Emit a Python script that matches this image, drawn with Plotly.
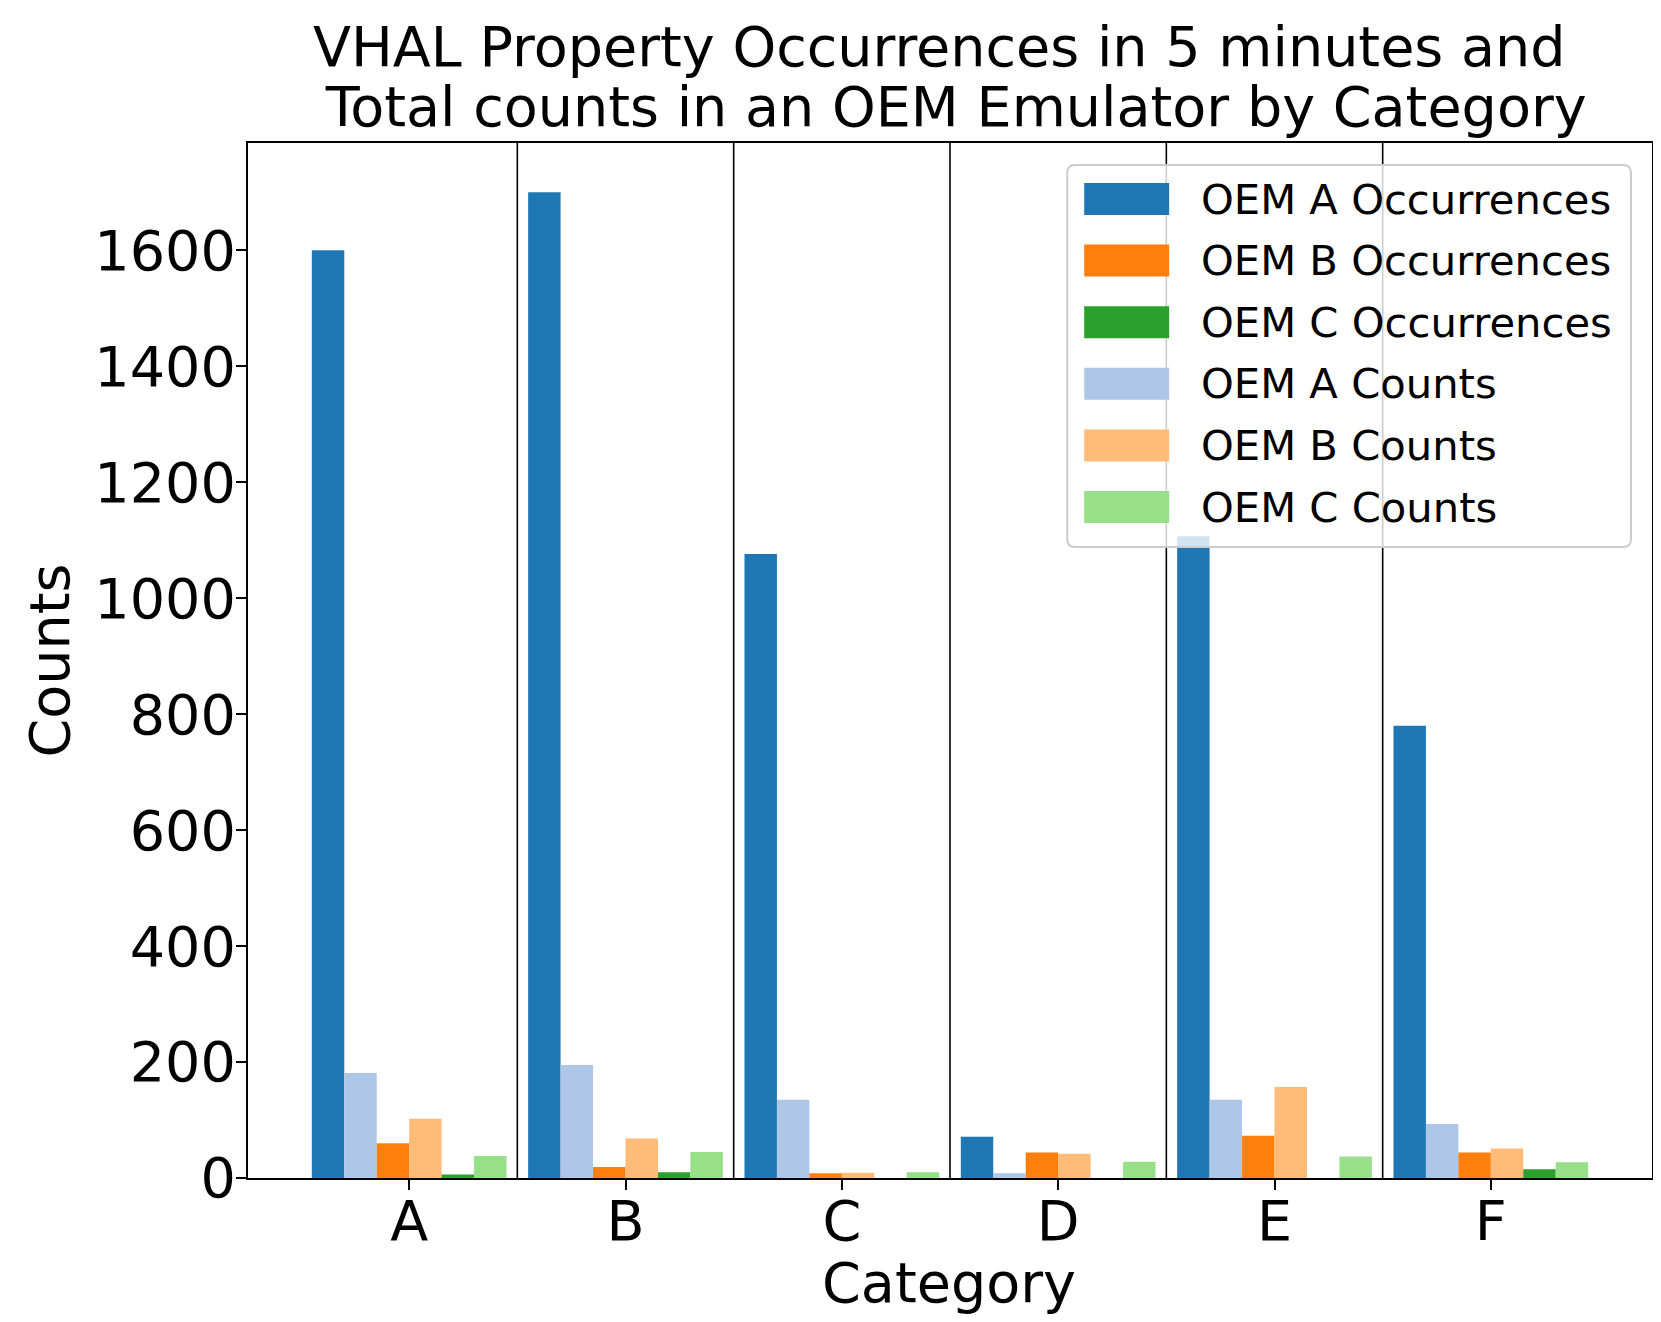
import plotly.graph_objects as go

categories = ["A", "B", "C", "D", "E", "F"]
oem_a_occ = [1600, 1700, 1076, 71, 1107, 780]
oem_a_cnt = [181, 195, 135, 8, 135, 93]
oem_b_occ = [60, 19, 8, 44, 73, 44]
oem_b_cnt = [102, 68, 9, 42, 157, 51]
oem_c_occ = [6, 10, 0, 0, 0, 15]
oem_c_cnt = [38, 45, 10, 28, 37, 27]

series = [
    ("OEM A Occurrences", oem_a_occ, "#1f77b4"),
    ("OEM A Counts", oem_a_cnt, "#aec7e8"),
    ("OEM B Occurrences", oem_b_occ, "#ff7f0e"),
    ("OEM B Counts", oem_b_cnt, "#ffbb78"),
    ("OEM C Occurrences", oem_c_occ, "#2ca02c"),
    ("OEM C Counts", oem_c_cnt, "#98df8a"),
]
legend_order = [0, 2, 4, 1, 3, 5]

W, H = 1661, 1322
L, R, T, B = 239.5, 1644, 135, 1170
PW, PH = R - L, B - T


def px2x(p):
    return (p - L) / PW


def px2y(p):
    return (B - p) / PH


FONT = "DejaVu Sans"
fig = go.Figure()
for name, vals, col in series:
    fig.add_trace(go.Bar(x=categories, y=vals, name=name, marker_color=col,
                         marker_line_width=0, showlegend=False))

shapes = []
for i in range(len(categories) - 1):
    shapes.append(dict(type="line", xref="x", yref="paper", x0=i + 0.5, x1=i + 0.5,
                       y0=0, y1=1, line=dict(color="black", width=1.6), layer="above"))

# legend box (rounded, semi-transparent like matplotlib)
lx0, lx1, ly0, ly1 = 1059, 1623, 157, 539
rr = 8


def seg(x, y):
    return f"{px2x(x)},{px2y(y)}"


ppath = (f"M {seg(lx0+rr, ly0)} L {seg(lx1-rr, ly0)} Q {seg(lx1, ly0)} {seg(lx1, ly0+rr)} "
         f"L {seg(lx1, ly1-rr)} Q {seg(lx1, ly1)} {seg(lx1-rr, ly1)} L {seg(lx0+rr, ly1)} "
         f"Q {seg(lx0, ly1)} {seg(lx0, ly1-rr)} L {seg(lx0, ly0+rr)} Q {seg(lx0, ly0)} {seg(lx0+rr, ly0)} Z")
shapes.append(dict(type="path", xref="paper", yref="paper", path=ppath,
                   fillcolor="rgba(255,255,255,0.8)", line=dict(color="#cccccc", width=2),
                   layer="above"))

annotations = []
row_y0, row_dy = 191, 61.6
for k, idx in enumerate(legend_order):
    name, vals, col = series[idx]
    cy = row_y0 + k * row_dy
    shapes.append(dict(type="rect", xref="paper", yref="paper",
                       x0=px2x(1076), x1=px2x(1161), y0=px2y(cy - 16), y1=px2y(cy + 16),
                       fillcolor=col, line=dict(width=0), layer="above"))
    annotations.append(dict(text=name, xref="paper", yref="paper", x=px2x(1191), y=px2y(cy),
                            xanchor="left", yanchor="middle", showarrow=False,
                            font=dict(family=FONT, size=41.7, color="black")))

# title lines
annotations.append(dict(text="VHAL Property Occurrences in 5 minutes and", xref="paper", yref="paper",
                        x=px2x(931), y=px2y(39), xanchor="center", yanchor="middle", showarrow=False,
                        font=dict(family=FONT, size=55.6, color="black")))
annotations.append(dict(text=" Total counts in an OEM Emulator by Category", xref="paper", yref="paper",
                        x=px2x(939), y=px2y(99), xanchor="center", yanchor="middle", showarrow=False,
                        font=dict(family=FONT, size=55.6, color="black")))
# axis titles
annotations.append(dict(text="Category", xref="paper", yref="paper", x=px2x(941), y=px2y(1274),
                        xanchor="center", yanchor="middle", showarrow=False,
                        font=dict(family=FONT, size=55.6, color="black")))
annotations.append(dict(text="Counts", xref="paper", yref="paper", x=px2x(40), y=px2y(653),
                        xanchor="center", yanchor="middle", showarrow=False, textangle=-90,
                        font=dict(family=FONT, size=55.6, color="black")))

fig.update_layout(
    width=W, height=H,
    margin=dict(l=L, r=W - R, t=T, b=H - B, pad=0),
    paper_bgcolor="white", plot_bgcolor="white",
    barmode="group", bargap=0.1, bargroupgap=0,
    font=dict(family=FONT, size=55.6, color="black"),
    shapes=shapes, annotations=annotations,
    showlegend=False,
)
fig.update_xaxes(type="category", range=[-0.745, 5.745], showline=True, linecolor="black",
                 linewidth=2.2, mirror=True, ticks="outside", ticklen=10, tickwidth=2.2,
                 tickcolor="black", showgrid=False, zeroline=False, ticklabelstandoff=-17,
                 tickfont=dict(family=FONT, size=55.6, color="black"))
fig.update_yaxes(range=[0, 1785], tickvals=[0, 200, 400, 600, 800, 1000, 1200, 1400, 1600],
                 showline=True, linecolor="black", linewidth=2.2, mirror=True, ticks="outside",
                 ticklen=10, tickwidth=2.2, tickcolor="black", showgrid=False, zeroline=False,
                 ticklabelstandoff=-11,
                 tickfont=dict(family=FONT, size=55.6, color="black"))

fig.write_html("out.html")
